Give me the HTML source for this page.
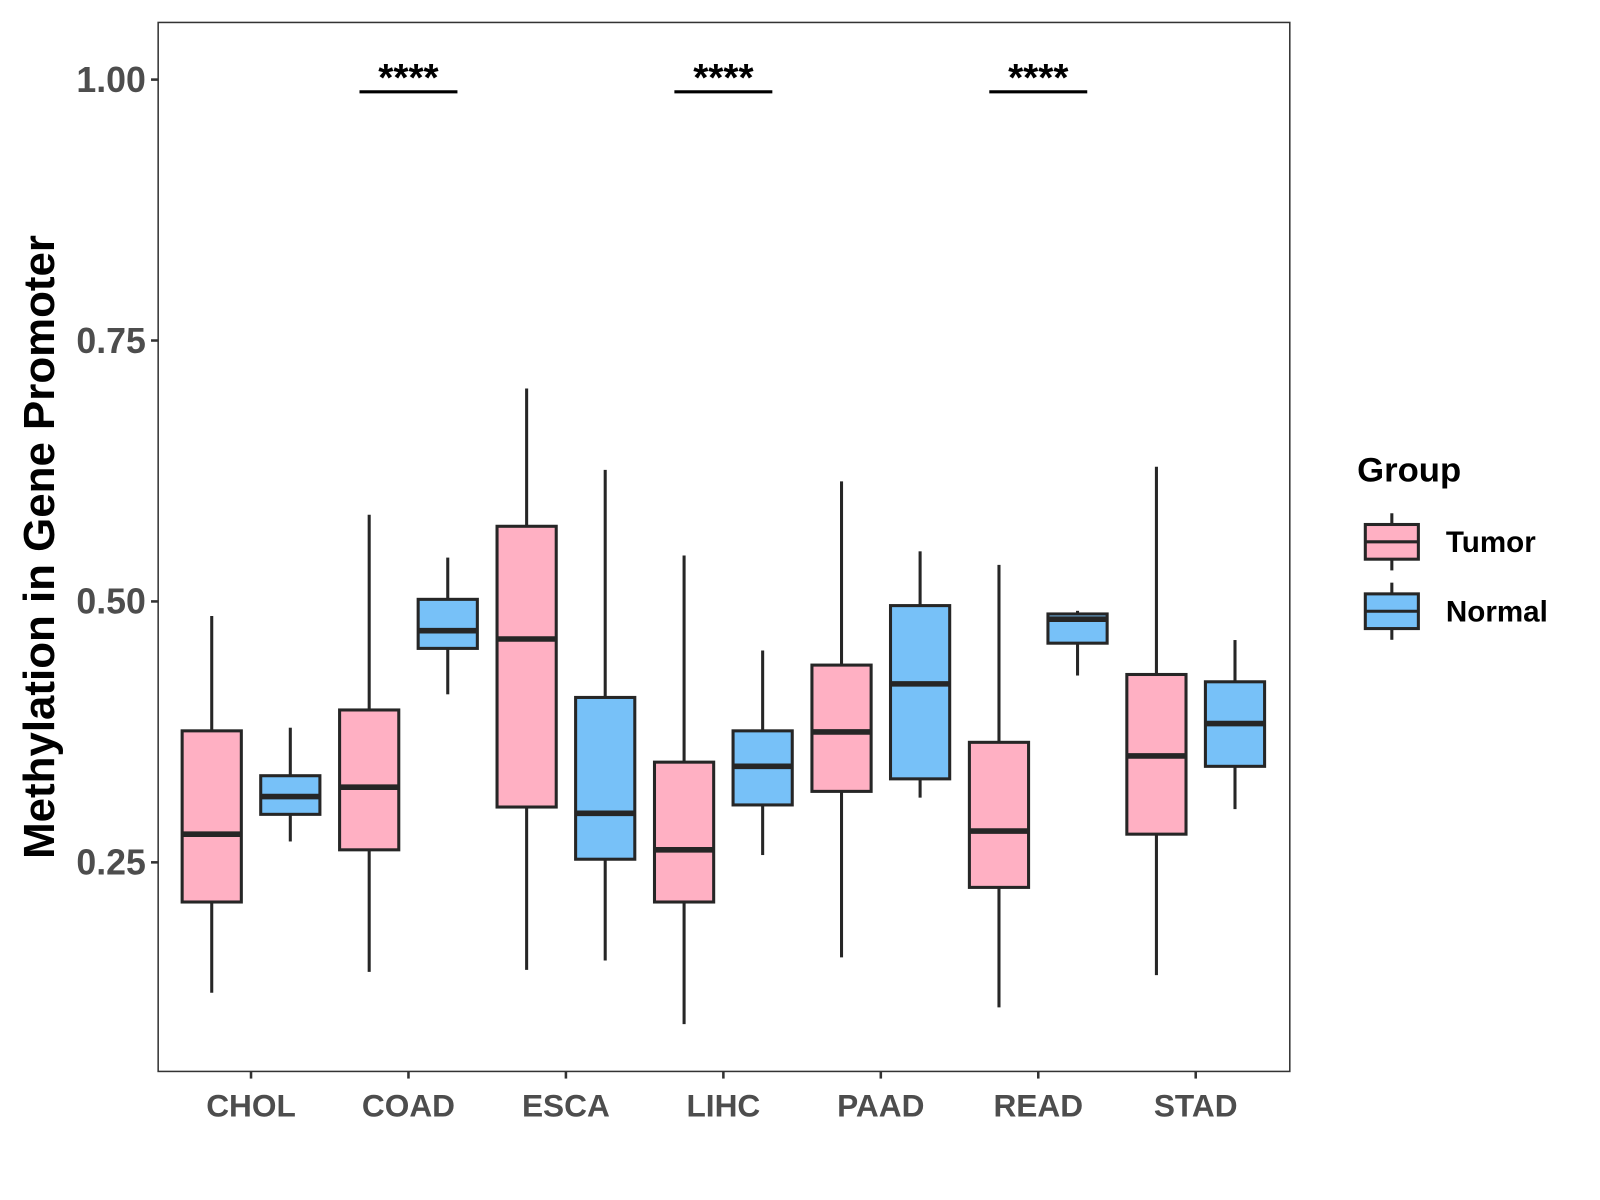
<!DOCTYPE html>
<html><head><meta charset="utf-8"><style>
html,body{margin:0;padding:0;background:#fff;}
svg{display:block;font-family:"Liberation Sans",Arial,sans-serif;}
</style></head><body>
<svg id="chart" width="1600" height="1200" viewBox="0 0 1568 1176" xmlns="http://www.w3.org/2000/svg">
<rect x="0" y="0" width="1568" height="1176" fill="#fff"/>
<g id="plot"></g>
</svg>
<script>
const categories = ["CHOL","COAD","ESCA","LIHC","PAAD","READ","STAD"];
// [lower whisker, Q1, median, Q3, upper whisker]
const tumorStats = [
 [0.125,0.212,0.277,0.376,0.486],
 [0.145,0.262,0.322,0.396,0.583],
 [0.147,0.303,0.464,0.572,0.704],
 [0.095,0.212,0.262,0.346,0.544],
 [0.159,0.318,0.375,0.439,0.615],
 [0.111,0.226,0.280,0.365,0.535],
 [0.142,0.277,0.352,0.430,0.629]
];
const normalStats = [
 [0.270,0.296,0.313,0.333,0.379],
 [0.411,0.455,0.472,0.502,0.542],
 [0.156,0.253,0.297,0.408,0.626],
 [0.257,0.305,0.342,0.376,0.453],
 [0.312,0.330,0.421,0.496,0.548],
 [0.429,0.460,0.483,0.488,0.491],
 [0.301,0.342,0.383,0.423,0.463]
];
const yTicks = [0.25,0.50,0.75,1.00];
const yTickLabels = ["0.25","0.50","0.75","1.00"];
const sigLabels = ["","****","","****","","****",""];

const NS="http://www.w3.org/2000/svg";
const g=document.getElementById('plot');
const P={l:155,r:1264,t:22,b:1050};
function y(v){return 78+(1-v)*1022.8;}
function xc(i){return 246+i*154.3;}
function el(tag,attrs,parent){const e=document.createElementNS(NS,tag);for(const k in attrs)e.setAttribute(k,attrs[k]);(parent||g).appendChild(e);return e;}

const panel=el('rect',{x:P.l,y:P.t,width:P.r-P.l,height:P.b-P.t,fill:'#fff',stroke:'#333','stroke-width':1.5});



yTicks.forEach((v,i)=>{
 const t=el('line',{x1:P.l-7,x2:P.l,y1:y(v),y2:y(v),stroke:'#333','stroke-width':2.5});
 
 
 const tx=el('text',{x:P.l-12,y:y(v)+12,'text-anchor':'end','font-size':35,'font-weight':'bold',fill:'#4d4d4d'});
 tx.textContent=yTickLabels[i];
 
 
});
categories.forEach((c,i)=>{
 const t=el('line',{x1:xc(i),x2:xc(i),y1:P.b,y2:P.b+7,stroke:'#333','stroke-width':2.5});
 
 
 const tx=el('text',{x:xc(i),y:P.b+44,'text-anchor':'middle','font-size':31,'font-weight':'bold',fill:'#4d4d4d'});
 tx.textContent=c;
 
 
});
const yt=el('text',{x:0,y:0,transform:'translate(53,536) rotate(-90)','text-anchor':'middle','font-size':43,'font-weight':'bold',fill:'#000'});
yt.textContent='Methylation in Gene Promoter';



function box(s,cx,fill,name){
 const hw=29;
 const gg=el('g',{});
 
 
 el('line',{x1:cx,x2:cx,y1:y(s[4]),y2:y(s[3]),stroke:'#262626','stroke-width':3},gg);
 el('line',{x1:cx,x2:cx,y1:y(s[1]),y2:y(s[0]),stroke:'#262626','stroke-width':3},gg);
 el('rect',{x:cx-hw,y:y(s[3]),width:2*hw,height:y(s[1])-y(s[3]),fill:fill,stroke:'#262626','stroke-width':3},gg);
 el('line',{x1:cx-hw,x2:cx+hw,y1:y(s[2]),y2:y(s[2]),stroke:'#262626','stroke-width':5.5},gg);
}
categories.forEach((c,i)=>{
 box(tumorStats[i],xc(i)-38.5,'#FFB0C3','tumor-box-'+c.toLowerCase());
 box(normalStats[i],xc(i)+38.5,'#77C1F8','normal-box-'+c.toLowerCase());
 if(sigLabels[i]){
  const l=el('line',{x1:xc(i)-48,x2:xc(i)+48,y1:90,y2:90,stroke:'#000','stroke-width':3});
  
  
  const t=el('text',{x:xc(i),y:89,'text-anchor':'middle','font-size':38,'font-weight':'bold',fill:'#000'});
  t.textContent=sigLabels[i];
  
  
 }
});

const lt=el('text',{x:1330,y:472,'font-size':34,'font-weight':'bold',fill:'#000'});
lt.textContent='Group';


[["Tumor",'#FFB0C3',531],["Normal",'#77C1F8',599]].forEach(([n,f,cy])=>{
 const gg=el('g',{});
 
 
 el('line',{x1:1364,x2:1364,y1:cy-28,y2:cy+28,stroke:'#262626','stroke-width':3},gg);
 el('rect',{x:1338,y:cy-17,width:52,height:34,fill:f,stroke:'#262626','stroke-width':3},gg);
 el('line',{x1:1338,x2:1390,y1:cy,y2:cy,stroke:'#262626','stroke-width':3},gg);
 const t=el('text',{x:1417,y:cy+10,'font-size':29,'font-weight':'bold',fill:'#000'},gg);
 t.textContent=n;
});
</script>
</body></html>
